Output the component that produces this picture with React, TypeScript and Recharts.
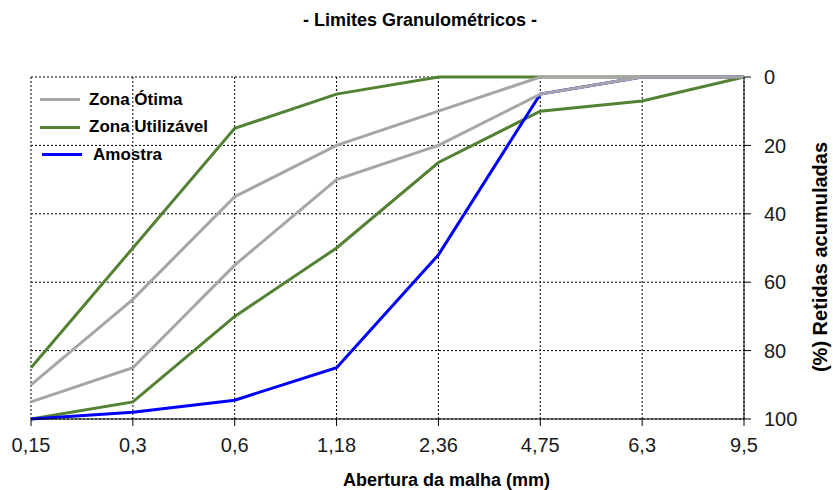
import { LineChart, Line, XAxis, YAxis, CartesianGrid, Label } from 'recharts';

const sieves = ['0,15', '0,3', '0,6', '1,18', '2,36', '4,75', '6,3', '9,5'];
const otimaInferior = [95, 85, 55, 30, 20, 5, 0, 0];
const otimaSuperior = [90, 65, 35, 20, 10, 0, 0, 0];
const utilInferior = [100, 95, 70, 50, 25, 10, 7, 0];
const utilSuperior = [85, 50, 15, 5, 0, 0, 0, 0];
const amostra = [100, 98, 94.5, 85, 52, 5, 0, 0];
const yTicks = [0, 20, 40, 60, 80, 100];

const GRAY = '#a6a6a6';
const GREEN = '#548235';
const BLUE = '#0000ff';
const FONT = '"Liberation Sans", Arial, sans-serif';

const legendItems = [
  { label: 'Zona Ótima', color: GRAY },
  { label: 'Zona Utilizável', color: GREEN },
  { label: 'Amostra', color: BLUE },
];

const data = sieves.map((s, i) => ({
  sieve: s,
  otimaInf: otimaInferior[i],
  otimaSup: otimaSuperior[i],
  utilInf: utilInferior[i],
  utilSup: utilSuperior[i],
  amostra: amostra[i],
}));

// legend sits inside the plot, top-left, like the original spreadsheet chart
function LegendBox() {
  return (
    <div style={{ position: 'absolute', top: 86, left: 40, fontFamily: FONT, fontWeight: 'bold', fontSize: 17, color: '#000' }}>
      {legendItems.map((it, i) => (
        <div key={it.label} style={{ display: 'flex', alignItems: 'center', height: i === 1 ? 28 : 27 }}>
          <span style={{ display: 'inline-block', width: 40, height: 3, background: it.color, marginRight: i === 2 ? 11 : 9, marginLeft: i === 2 ? 2 : 0 }} />
          <span>{it.label}</span>
        </div>
      ))}
    </div>
  );
}

export default function App() {
  return (
    <div style={{ position: 'absolute', left: 0, top: 0, width: 833, height: 490, background: '#fff' }}>
      <div style={{ position: 'absolute', top: 10, left: 0, width: 840, textAlign: 'center', fontFamily: FONT, fontWeight: 'bold', fontSize: 18 }}>
        - Limites Granulométricos -
      </div>
      <LineChart width={833} height={490} data={data} margin={{ top: 77, right: 9, bottom: 41, left: 31 }}>
        <CartesianGrid stroke="#000" strokeDasharray="2 2" />
        <XAxis
          dataKey="sieve"
          height={30}
          tickSize={7}
          tickMargin={12}
          axisLine={{ stroke: '#000' }}
          tickLine={{ stroke: '#000' }}
          tick={{ fill: '#1a1a1a', fontSize: 20, fontFamily: FONT }}
        >
          <Label
            content={({ viewBox }: any) => (
              <text x={viewBox.x + viewBox.width / 2 + 59} y={viewBox.y + 61} textAnchor="middle" dominantBaseline="central"
                style={{ fontFamily: FONT, fontWeight: 'bold', fontSize: 18 }} fill="#000">
                Abertura da malha (mm)
              </text>
            )}
          />
        </XAxis>
        <YAxis
          orientation="right"
          reversed
          domain={[0, 100]}
          ticks={yTicks}
          width={80}
          tickSize={7}
          tickMargin={13}
          axisLine={{ stroke: '#000' }}
          tickLine={{ stroke: '#000' }}
          tick={{ fill: '#1a1a1a', fontSize: 20, fontFamily: FONT }}
        >
          <Label
            content={({ viewBox }: any) => {
              const x = viewBox.x + 76;
              const y = viewBox.y + viewBox.height / 2 + 9;
              return (
                <text x={x} y={y} transform={`rotate(-90, ${x}, ${y})`} textAnchor="middle" dominantBaseline="central"
                  style={{ fontFamily: FONT, fontWeight: 'bold', fontSize: 20 }} fill="#000">
                  (%) Retidas acumuladas
                </text>
              );
            }}
          />
        </YAxis>
        <Line dataKey="utilSup" stroke={GREEN} strokeWidth={3} dot={false} isAnimationActive={false} />
        <Line dataKey="utilInf" stroke={GREEN} strokeWidth={3} dot={false} isAnimationActive={false} />
        <Line dataKey="amostra" stroke={BLUE} strokeWidth={3} dot={false} isAnimationActive={false} />
        <Line dataKey="otimaSup" stroke={GRAY} strokeWidth={3} dot={false} isAnimationActive={false} />
        <Line dataKey="otimaInf" stroke={GRAY} strokeWidth={3} dot={false} isAnimationActive={false} />
      </LineChart>
      <LegendBox />
    </div>
  );
}
